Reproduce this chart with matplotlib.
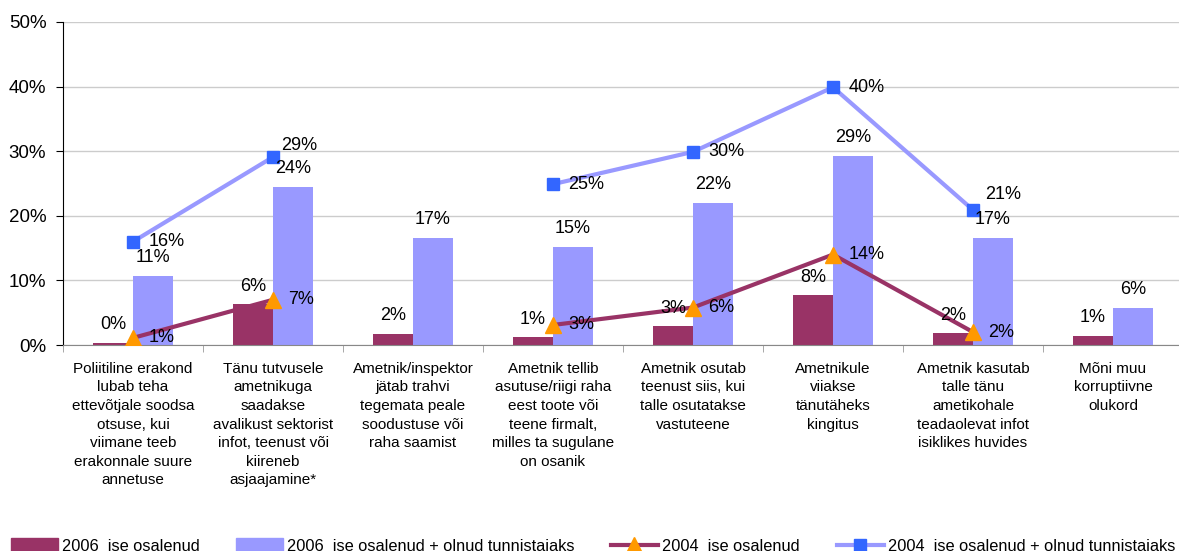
import numpy as np
import matplotlib
matplotlib.use("Agg")
import matplotlib.pyplot as plt
from matplotlib.lines import Line2D
from matplotlib.patches import Patch

plt.rcParams['font.family'] = ['Liberation Sans', 'DejaVu Sans']

categories = [
    "Poliitiline erakond\nlubab teha\nettevõtjale soodsa\notsuse, kui\nviimane teeb\nerakonnale suure\nannetuse",
    "Tänu tutvusele\nametnikuga\nsaadakse\navalikust sektorist\ninfot, teenust või\nkiireneb\nasjaajamine*",
    "Ametnik/inspektor\njätab trahvi\ntegemata peale\nsoodustuse või\nraha saamist",
    "Ametnik tellib\nasutuse/riigi raha\neest toote või\nteene firmalt,\nmilles ta sugulane\non osanik",
    "Ametnik osutab\nteenust siis, kui\ntalle osutatakse\nvastuteene",
    "Ametnikule\nviiakse\ntänutäheks\nkingitus",
    "Ametnik kasutab\ntalle tänu\nametikohale\nteadaolevat infot\nisiklikes huvides",
    "Mõni muu\nkorruptiivne\nolukord",
]
bar2006_self = [0.3, 6.3, 1.7, 1.2, 2.9, 7.7, 1.8, 1.4]
bar2006_self_lbl = ["0%", "6%", "2%", "1%", "3%", "8%", "2%", "1%"]
bar2006_all = [10.7, 24.5, 16.6, 15.2, 22.0, 29.3, 16.6, 5.7]
bar2006_all_lbl = ["11%", "24%", "17%", "15%", "22%", "29%", "17%", "6%"]
line2004_self = [1.1, 7.0, np.nan, 3.1, 5.8, 14.0, 2.0, np.nan]
line2004_self_lbl = ["1%", "7%", "", "3%", "6%", "14%", "2%", ""]
line2004_all = [16.0, 29.1, np.nan, 24.9, 29.9, 39.9, 20.9, np.nan]
line2004_all_lbl = ["16%", "29%", "", "25%", "30%", "40%", "21%", ""]
yticks = [0, 10, 20, 30, 40, 50]
legend_labels = ["2006  ise osalenud", "2006  ise osalenud + olnud tunnistajaks",
                 "2004  ise osalenud", "2004  ise osalenud + olnud tunnistajaks"]

# label nudges (points) for the 2004 "all" line labels
all_lbl_dx = [11, 6, 0, 11, 11, 11, 9, 0]
all_lbl_dy = [0, 8, 0, 0, 0, 0, 11, 0]

c_dark = "#993366"
c_light = "#9999FF"
c_tri = "#FF9900"
c_sq = "#3366FF"

fig = plt.figure(figsize=(11.79, 5.51), dpi=100)
ax = fig.add_axes([63/1179, 1-345/551, (1183-63)/1179, (345-22)/551])

n = len(categories)
x = np.arange(n)
w = 0.286
lfs = 13

ax.bar(x - w/2, bar2006_self, width=w, color=c_dark, zorder=2)
ax.bar(x + w/2, bar2006_all, width=w, color=c_light, zorder=2)
ax.plot(x, line2004_self, color=c_dark, lw=3, marker='^', ms=11,
        mfc=c_tri, mec=c_tri, zorder=4)
ax.plot(x, line2004_all, color=c_light, lw=3, marker='s', ms=9,
        mfc=c_sq, mec=c_sq, zorder=4)

for i in range(n):
    ax.annotate(bar2006_self_lbl[i], (x[i] - w/2, bar2006_self[i]), xytext=(0, 7),
                textcoords='offset points', ha='center', va='bottom', fontsize=lfs, zorder=5)
    ax.annotate(bar2006_all_lbl[i], (x[i] + w/2, bar2006_all[i]), xytext=(0, 7),
                textcoords='offset points', ha='center', va='bottom', fontsize=lfs, zorder=5)
    if line2004_self_lbl[i]:
        ax.annotate(line2004_self_lbl[i], (x[i], line2004_self[i]), xytext=(11, 0),
                    textcoords='offset points', ha='left', va='center', fontsize=lfs, zorder=5)
    if line2004_all_lbl[i]:
        ax.annotate(line2004_all_lbl[i], (x[i], line2004_all[i]),
                    xytext=(all_lbl_dx[i], all_lbl_dy[i]),
                    textcoords='offset points', ha='left', va='center', fontsize=lfs, zorder=5)

ax.set_xlim(-0.5, n - 0.5)
ax.set_ylim(0, 50)
ax.set_yticks(yticks)
ax.set_yticklabels([f"{v}%" for v in yticks], fontsize=13.5)
ax.set_xticks(x)
ax.set_xticklabels(categories, fontsize=11, linespacing=1.42, va='top')
ax.tick_params(axis='x', length=0, pad=12)
ax.set_xticks(np.arange(-0.5, n, 1.0), minor=True)
ax.tick_params(axis='x', which='minor', length=5, color='#999999')
ax.tick_params(axis='y', length=5, direction='out', pad=7)
ax.yaxis.grid(True, color='#cccccc', lw=1, zorder=0)
ax.set_axisbelow(True)
for s in ['top', 'right']:
    ax.spines[s].set_visible(False)
ax.spines['bottom'].set_color('#888888')
ax.spines['left'].set_color('black')

handles = [
    Patch(color=c_dark),
    Patch(color=c_light),
    Line2D([], [], color=c_dark, lw=3, marker='^', ms=11, mfc=c_tri, mec=c_tri),
    Line2D([], [], color=c_light, lw=3, marker='s', ms=9, mfc=c_sq, mec=c_sq),
]
xs = [11, 236, 611, 837]
for h, lab, xx in zip(handles, legend_labels, xs):
    fig.legend([h], [lab], loc='center left', bbox_to_anchor=(xx/1179, 1 - 546/551),
               frameon=False, fontsize=11.75, handlelength=2.85, handletextpad=0.25,
               handleheight=0.85, borderpad=0, borderaxespad=0)

fig.savefig("out.png", dpi=100)
